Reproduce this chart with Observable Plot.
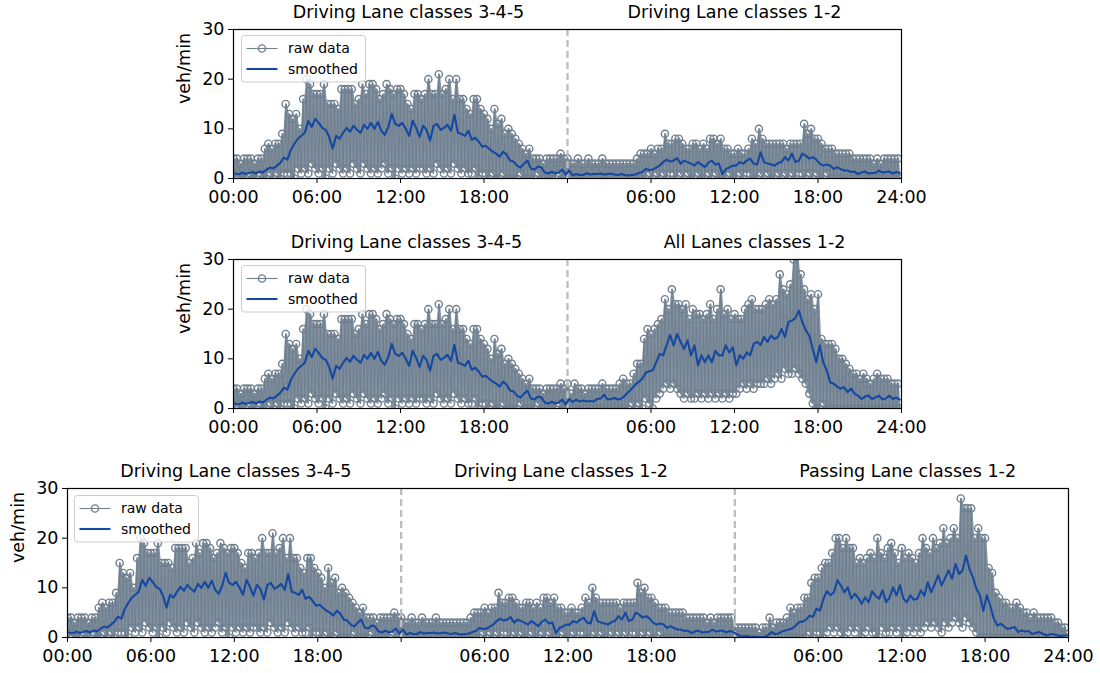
<!DOCTYPE html>
<html><head><meta charset="utf-8">
<script src="https://cdn.jsdelivr.net/npm/d3@7"></script>
<script src="https://cdn.jsdelivr.net/npm/@observablehq/plot@0.6"></script>
<style>
body{margin:0;background:#fff;}
#fig{position:relative;width:1100px;height:673px;font-family:"DejaVu Sans",sans-serif;overflow:hidden;}
#fig svg.panel{position:absolute;left:0;}
#fig svg.legend{position:absolute;}
</style></head><body><div id="fig"></div>
<script>
// ---- data: 15-minute bins (96 per day), values in veh/min ----
// Driving Lane classes 3-4-5
const A_smooth = [1.0,0.8,1.2,0.9, 1.1,1.3,1.0,1.4, 1.2,1.8,2.2,2.0, 2.6,3.2,4.2,3.8,
 5.8,7.0,8.0,8.6, 9.2,11.6,10.4,12.0, 11.2,10.2,9.8,8.4, 6.0,8.6,8.0,9.2,
 10.2,9.4,10.6,9.8, 9.2,10.8,10.0,11.2, 10.0,11.4,9.6,8.8, 10.4,13.0,11.0,10.6,
 11.2,10.0,8.6,11.6, 10.2,8.4,10.6,9.8, 7.6,10.6,11.0,9.8, 10.2,10.8,9.6,12.8,
 9.2,9.0,8.6,9.6, 7.8,8.2,7.4,6.4, 6.6,6.0,5.4,5.0, 4.4,5.4,4.8,3.6,
 3.4,2.6,2.2,3.0, 3.6,2.0,1.8,2.4, 2.2,1.2,1.0,1.4, 1.0,1.2,1.8,0.8];
const A_hi = [4,4,3,4, 4,4,3,4, 4,6,7,6, 7,7,9,15,
 13,12,13,10, 16,20,19,17, 17,17,19,15, 15,15,14,18,
 18,18,18,15, 16,19,17,19, 19,18,16,17, 19,18,17,18,
 18,17,15,14, 17,17,16,17, 20,17,17,21, 17,18,20,16,
 20,16,16,14, 13,16,16,14, 13,12,10,14, 11,12,9,10,
 9,8,7,6, 5,6,4,4, 4,3,4,4, 4,4,5,4];
const A_lo = [0,1,0,0, 1,0,0,1, 0,0,1,0, 1,0,1,1,
 1,0,2,1, 2,1,3,2, 1,2,0,2, 1,3,2,1,
 2,1,3,2, 1,3,2,1, 2,1,2,3, 1,2,0,2,
 1,2,1,2, 1,2,2,1, 2,1,3,2, 1,2,1,3,
 2,1,2,1, 1,2,0,1, 1,0,1,0, 0,1,0,0,
 0,0,1,0, 0,0,0,1, 0,0,0,0, 0,1,0,0];
// Driving Lane classes 1-2
const B_smooth = [1.6,0.6,0.9,0.7, 0.7,1.1,0.8,0.9, 0.9,1.0,0.8,0.9, 1.0,0.8,0.7,0.9,
 0.7,0.6,0.7,0.8, 1.1,1.3,1.9,1.7, 1.8,2.2,2.6,3.3, 3.8,3.4,3.6,4.1,
 3.0,3.6,3.3,3.0, 2.6,3.3,2.8,2.3, 3.2,3.6,2.8,3.0, 0.9,1.9,2.2,2.6,
 2.6,3.3,3.0,3.6, 4.0,3.0,2.8,5.3, 3.3,3.0,2.8,2.6, 3.1,3.3,4.3,3.6,
 5.0,3.3,3.6,5.0, 4.6,4.0,4.3,3.8, 3.0,2.6,2.8,2.6, 1.9,2.3,1.9,1.6,
 1.6,1.3,1.4,0.9, 1.2,1.4,1.0,1.1, 1.1,1.6,1.2,1.3, 1.4,1.0,1.3,1.1];
const B_hi = [4,3,3,4, 3,3,4,3, 3,3,4,3, 3,3,3,3,
 3,3,3,3, 4,5,5,5, 6,5,6,6, 9,7,7,8,
 8,7,6,6, 7,7,6,7, 6,8,8,7, 8,6,6,5,
 5,6,5,5, 6,8,7,10, 8,7,7,7, 7,7,7,6,
 7,7,7,7, 11,9,10,8, 8,7,6,6, 6,5,5,5,
 5,5,4,4, 4,4,4,4, 3,4,3,4, 4,4,4,4];
const B_lo = [0,0,0,0, 0,0,0,0, 0,0,0,0, 0,0,0,0,
 0,0,0,0, 0,0,0,1, 0,1,0,1, 0,1,1,0,
 1,0,1,0, 0,1,0,0, 1,0,1,0, 0,0,1,0,
 0,1,0,1, 1,0,0,1, 0,1,0,0, 1,0,1,0,
 1,0,1,1, 0,1,0,1, 0,0,1,0, 0,0,0,0,
 0,0,0,0, 0,0,0,0, 0,0,0,0, 0,0,0,0];
// All Lanes classes 1-2
const C_smooth = [1.9,1.3,1.8,1.4, 1.6,1.4,1.5,1.4, 1.9,2.0,2.8,1.8, 1.9,2.1,1.8,2.0,
 2.6,3.3,4.0,4.8, 5.4,6.0,7.2,7.5, 7.7,9.3,11.0,10.7, 12.8,14.8,12.7,15.0,
 13.4,12.0,13.7,10.7, 12.7,8.7,10.7,9.3, 10.7,9.3,11.6,10.7, 10.7,12.7,11.3,12.3,
 8.7,10.7,10.0,11.3, 10.7,13.0,13.4,12.8, 14.4,13.4,14.7,14.0, 14.4,16.0,14.4,17.4,
 17.7,18.2,19.7,17.4, 15.7,14.7,12.0,9.3, 12.7,9.3,7.7,5.3, 5.0,4.4,4.0,4.3,
 3.3,4.0,3.0,2.6, 1.9,2.4,2.6,1.9, 2.2,2.6,1.8,2.0, 2.6,1.9,2.2,1.8];
const C_hi = [5,3,5,4, 4,3,4,4, 4,4,5,4, 4,4,4,5,
 6,5,5,7, 9,9,14,16, 15,16,17,18, 22,20,24,21,
 21,20,21,18, 20,19,19,18, 19,21,18,20, 24,19,20,18,
 19,18,18,20, 21,22,20,20, 20,21,22,21, 22,27,24,23,
 25,30,31,27, 24,22,23,20, 23,14,13,13, 13,12,10,10,
 9,8,7,7, 6,7,6,5, 6,7,6,6, 6,5,5,5];
const C_lo = [0,0,0,0, 0,0,0,0, 0,0,0,0, 0,0,0,0,
 0,0,1,0, 1,0,2,1, 0,2,3,4, 5,4,5,4,
 3,2,3,2, 2,3,2,3, 2,3,2,3, 2,3,2,3,
 3,4,5,4, 5,4,5,5, 5,6,5,6, 7,6,8,7,
 7,8,7,6, 5,3,1,0, 0,1,0,0, 0,0,0,0,
 0,0,0,0, 0,0,0,0, 0,0,0,0, 0,0,0,0];
// Passing Lane classes 1-2
const D_smooth = [0.7,0.3,0.2,0.3, 0.1,0.2,0.1,0.1, 0.1,0.4,1.1,0.7, 0.8,1.2,1.4,1.6,
 1.8,2.4,3.1,3.2, 3.6,4.4,4.2,5.8, 5.4,7.8,9.3,8.5, 9.1,11.5,10.5,9.1,
 10.1,7.8,8.8,8.0, 6.8,8.1,7.1,9.3, 8.4,7.8,9.5,7.1, 8.0,10.1,8.5,10.5,
 7.8,7.1,8.5,7.6, 7.8,9.5,8.4,11.1, 9.1,10.8,12.5,10.5, 12.0,13.5,11.8,14.8,
 12.8,13.5,16.5,13.8, 12.1,9.8,8.5,5.4, 8.5,6.4,3.8,2.4, 2.8,2.2,1.7,1.9,
 2.1,1.1,1.4,1.2, 1.3,0.7,0.9,1.1, 0.8,0.4,0.6,0.7, 0.5,0.3,0.4,0.4];
const D_hi = [2,2,2,2, 2,2,2,1, 2,2,4,2, 3,3,3,4,
 6,5,6,6, 8,8,11,12, 12,14,15,15, 17,20,20,18,
 20,18,18,15, 16,15,16,17, 16,20,17,16, 18,19,17,15,
 18,16,17,16, 15,17,20,18, 17,20,18,19, 22,19,20,22,
 20,28,26,26, 26,20,22,20, 20,14,13,9, 8,7,7,6,
 6,7,6,5, 5,4,5,4, 4,4,4,4, 3,3,2,2];
const D_lo = [0,0,0,0, 0,0,0,0, 0,0,0,0, 0,0,0,0,
 0,0,0,0, 0,1,0,1, 1,0,1,2, 1,2,1,0,
 1,2,1,2, 0,1,2,1, 1,0,2,1, 1,2,1,2,
 0,1,2,1, 2,1,2,3, 2,3,2,1, 3,2,3,4,
 3,2,4,3, 2,1,0,0, 0,0,0,0, 0,0,0,0,
 0,0,0,0, 0,0,0,0, 0,0,0,0, 0,0,0,0];

// titles and tick labels
const titles1 = ["Driving Lane classes 3-4-5", "Driving Lane classes 1-2"];
const titles2 = ["Driving Lane classes 3-4-5", "All Lanes classes 1-2"];
const titles3 = ["Driving Lane classes 3-4-5", "Driving Lane classes 1-2", "Passing Lane classes 1-2"];
const ticks2day = [0, 6, 12, 18, 24, 30, 36, 42, 48];
const tickLabels2day = ["00:00","06:00","12:00","18:00","","06:00","12:00","18:00","24:00"];
const ticks3day = [0, 6, 12, 18, 24, 30, 36, 42, 48, 54, 60, 66, 72];
const tickLabels3day = ["00:00","06:00","12:00","18:00","","06:00","12:00","18:00","","06:00","12:00","18:00","24:00"];
const yTicks = [0, 10, 20, 30];
const legendLabels = ["raw data", "smoothed"];
const yLabel = "veh/min";

const A = {smooth: A_smooth, hi: A_hi, lo: A_lo};
const B = {smooth: B_smooth, hi: B_hi, lo: B_lo};
const C = {smooth: C_smooth, hi: C_hi, lo: C_lo};
const D = {smooth: D_smooth, hi: D_hi, lo: D_lo};

// ---- style ----
const RAW = "#708090", SMOOTH = "#1548a0", DASH = "#bdbdbd";
const FONT = '"DejaVu Sans", sans-serif';
const fig = document.getElementById("fig");

function makePanel(cfg) {
  const nd = cfg.days.length;
  const raw = [], band = [], smooth = [];
  cfg.days.forEach((ds, d) => {
    ds.hi.forEach((v, i) => {
      const t0 = d * 24 + i * 0.25;
      raw.push({t: t0, v});
      raw.push({t: t0 + 0.125, v: ds.lo[i]});
      band.push({t: t0, hi: v, lo: ds.lo[i]});
      band.push({t: t0 + 0.125, hi: v, lo: ds.lo[i]});
    });
    ds.smooth.forEach((v, i) => smooth.push({t: d * 24 + i * 0.25 + 0.125, v}));
  });
  const labelOf = new Map(cfg.ticks.map((t, i) => [t, cfg.tickLabels[i]]));
  const bounds = d3.range(1, nd).map(d => d * 24);
  const titleMarks = cfg.titles.map((s, d) =>
    Plot.text([s], {x: () => d * 24 + 12, y: () => 30, dx: cfg.titleDx[d], dy: -17,
      fontSize: 17.5, lineAnchor: "middle", fill: "#000"}));
  const plot = Plot.plot({
    width: 1100, height: cfg.height,
    marginTop: 29, marginBottom: cfg.height - 178, marginLeft: cfg.left, marginRight: cfg.right,
    style: {fontFamily: FONT, fontSize: "17.5px", color: "#000", background: "transparent", overflow: "visible"},
    x: {domain: [0, nd * 24]},
    y: {domain: [0, 30]},
    marks: [
      Plot.areaY(band, {x: "t", y1: "lo", y2: "hi", fill: RAW, fillOpacity: 0.86, clip: true}),
      Plot.line(raw, {x: "t", y: "v", stroke: RAW, strokeWidth: 1.1, clip: true}),
      Plot.dot(raw, {x: "t", y: "v", r: 3.6, stroke: RAW, strokeWidth: 1.4, fill: "none", clip: true}),
      Plot.ruleX(bounds, {stroke: DASH, strokeWidth: 2.3, strokeDasharray: "7,4"}),
      Plot.line(smooth, {x: "t", y: "v", stroke: SMOOTH, strokeWidth: 2.1, clip: true}),
      Plot.frame({stroke: "#000", strokeWidth: 1.2}),
      Plot.axisX({ticks: cfg.ticks, tickFormat: t => labelOf.get(t), tickSize: 5, tickPadding: 7, label: null, fontSize: 17.5}),
      Plot.axisY({ticks: yTicks, tickSize: 5, tickPadding: 4, label: null, fontSize: 17.5}),
      Plot.text([yLabel], {frameAnchor: "left", dx: -49, rotate: -90, fontSize: 17.5, fill: "#000"}),
      ...titleMarks
    ]
  });
  plot.classList.add("panel");
  plot.style.top = cfg.top + "px";
  fig.appendChild(plot);

  // legend
  const L = cfg.legend;
  const ns = "http://www.w3.org/2000/svg";
  const svg = document.createElementNS(ns, "svg");
  svg.setAttribute("class", "legend");
  svg.setAttribute("width", 127); svg.setAttribute("height", 49);
  svg.style.left = L[0] + "px"; svg.style.top = L[1] + "px";
  svg.innerHTML = `
    <rect x="0.5" y="0.5" width="124" height="46.5" rx="3" fill="#fff" fill-opacity="0.8" stroke="#cccccc" stroke-width="1"/>
    <line x1="5.5" x2="36.5" y1="13.5" y2="13.5" stroke="${RAW}" stroke-width="1.1"/>
    <circle cx="21" cy="13.5" r="3.6" fill="none" stroke="${RAW}" stroke-width="1.4"/>
    <text x="47" y="13.5" dy="0.35em" font-family='${FONT}' font-size="14" fill="#000">${legendLabels[0]}</text>
    <line x1="5.5" x2="36.5" y1="34" y2="34" stroke="${SMOOTH}" stroke-width="2.1"/>
    <text x="47" y="34" dy="0.35em" font-family='${FONT}' font-size="14" fill="#000">${legendLabels[1]}</text>`;
  fig.appendChild(svg);
}

makePanel({days: [A, B], titles: titles1, titleDx: [8, 0], ticks: ticks2day, tickLabels: tickLabels2day,
  top: 0, height: 230, left: 233, right: 199, legend: [241, 35]});
makePanel({days: [A, C], titles: titles2, titleDx: [6, 20], ticks: ticks2day, tickLabels: tickLabels2day,
  top: 230, height: 230, left: 233, right: 199, legend: [241, 265]});
makePanel({days: [A, B, D], titles: titles3, titleDx: [1.5, -7, 6], ticks: ticks3day, tickLabels: tickLabels3day,
  top: 459, height: 214, left: 67, right: 32, legend: [74, 495]});
</script>
</body></html>
